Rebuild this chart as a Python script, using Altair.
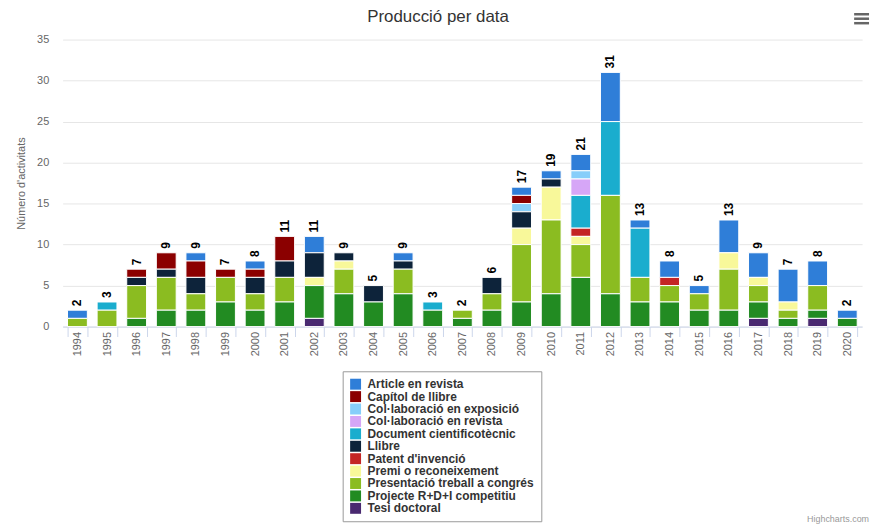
import altair as alt
import pandas as pd

years = [str(y) for y in range(1994, 2021)]

series_names = [
    "Article en revista",
    "Capítol de llibre",
    "Col·laboració en exposició",
    "Col·laboració en revista",
    "Document cientificotècnic",
    "Llibre",
    "Patent d'invenció",
    "Premi o reconeixement",
    "Presentació treball a congrés",
    "Projecte R+D+I competitiu",
    "Tesi doctoral",
]
series_colors = [
    "#2f7ed8", "#8b0000", "#87cefa", "#d6a6f7", "#1aadce", "#0d233a",
    "#c42525", "#f8f89a", "#8bbc21", "#228b22", "#492970",
]

#             94 95 96 97 98 99 00 01 02 03 04 05 06 07 08 09 10 11 12 13 14 15 16 17 18 19 20
article     = [1, 0, 0, 0, 1, 0, 1, 0, 2, 0, 0, 1, 0, 0, 0, 1, 1, 2, 6, 1, 2, 1, 4, 3, 4, 3, 1]
capitol     = [0, 0, 1, 2, 2, 1, 1, 3, 0, 0, 0, 0, 0, 0, 0, 1, 0, 0, 0, 0, 0, 0, 0, 0, 0, 0, 0]
colab_expo  = [0, 0, 0, 0, 0, 0, 0, 0, 0, 0, 0, 0, 0, 0, 0, 1, 0, 1, 0, 0, 0, 0, 0, 0, 0, 0, 0]
colab_rev   = [0, 0, 0, 0, 0, 0, 0, 0, 0, 0, 0, 0, 0, 0, 0, 0, 0, 2, 0, 0, 0, 0, 0, 0, 0, 0, 0]
document    = [0, 1, 0, 0, 0, 0, 0, 0, 0, 0, 0, 0, 1, 0, 0, 0, 0, 4, 9, 6, 0, 0, 0, 0, 0, 0, 0]
llibre      = [0, 0, 1, 1, 2, 0, 2, 2, 3, 1, 2, 1, 0, 0, 2, 2, 1, 0, 0, 0, 0, 0, 0, 0, 0, 0, 0]
patent      = [0, 0, 0, 0, 0, 0, 0, 0, 0, 0, 0, 0, 0, 0, 0, 0, 0, 1, 0, 0, 1, 0, 0, 0, 0, 0, 0]
premi       = [0, 0, 0, 0, 0, 0, 0, 0, 1, 1, 0, 0, 0, 0, 0, 2, 4, 1, 0, 0, 0, 0, 2, 1, 1, 0, 0]
presentacio = [1, 2, 4, 4, 2, 3, 2, 3, 0, 3, 0, 3, 0, 1, 2, 7, 9, 4, 12, 3, 2, 2, 5, 2, 1, 3, 0]
projecte    = [0, 0, 1, 2, 2, 3, 2, 3, 4, 4, 3, 4, 2, 1, 2, 3, 4, 6, 4, 3, 3, 2, 2, 2, 1, 1, 1]
tesi        = [0, 0, 0, 0, 0, 0, 0, 0, 1, 0, 0, 0, 0, 0, 0, 0, 0, 0, 0, 0, 0, 0, 0, 1, 0, 1, 0]

series_values = [article, capitol, colab_expo, colab_rev, document, llibre,
                 patent, premi, presentacio, projecte, tesi]

chart_title = "Producció per data"
credits_text = "Highcharts.com"

rows = []
for k, (name, vals) in enumerate(zip(series_names, series_values)):
    for y, v in zip(years, vals):
        if v > 0:
            rows.append({"any": y, "tipus": name, "n": v, "ordre": k})
df = pd.DataFrame(rows)
one = pd.DataFrame({"k": [0]})

FONT = "Liberation Sans"

x_enc = alt.X(
    "any:N",
    sort=years,
    title=None,
    scale=alt.Scale(paddingInner=0.33, paddingOuter=0.165),
    axis=alt.Axis(
        labelAngle=270,
        labelColor="#666666",
        labelFontSize=11,
        labelFont=FONT,
        labelPadding=-5,
        tickBand="extent",
        tickSize=10,
        tickColor="#ccd6eb",
        domainColor="#ccd6eb",
        grid=False,
    ),
)

base = alt.Chart(df)

bars = base.mark_bar(stroke="white", strokeWidth=1).encode(
    x=x_enc,
    y=alt.Y(
        "n:Q",
        stack="zero",
        scale=alt.Scale(domain=[0, 35], nice=False),
        axis=alt.Axis(
            values=[0, 5, 10, 15, 20, 25, 30, 35],
            domain=False,
            ticks=False,
            grid=True,
            gridColor="#e6e6e6",
            labelColor="#666666",
            labelFontSize=11,
            labelFont=FONT,
            labelPadding=14,
            title="Número d'activitats",
            titleFont=FONT,
            titleFontSize=11,
            titleFontWeight="normal",
            titleColor="#666666",
            titlePadding=10,
        ),
    ),
    color=alt.Color(
        "tipus:N",
        scale=alt.Scale(domain=series_names, range=series_colors),
        legend=alt.Legend(
            title=None,
            orient="none",
            legendX=282,
            legendY=334,
            direction="vertical",
            symbolType="square",
            symbolSize=121,
            symbolStrokeWidth=0,
            symbolOpacity=1,
            labelFont=FONT,
            labelFontSize=12,
            labelFontWeight="bold",
            labelColor="#333333",
            labelOffset=6,
            labelLimit=400,
            rowPadding=0.5,
            padding=7,
            strokeColor="#999999",
            fillColor="white",
        ),
    ),
    order=alt.Order("ordre:Q", sort="descending"),
)

totals = base.transform_aggregate(
    total="sum(n)", groupby=["any"]
).mark_text(
    angle=270, align="left", baseline="middle", dx=4,
    font=FONT, fontSize=12, fontWeight="bold", color="#000000",
).encode(
    x=alt.X("any:N", sort=years),
    y=alt.Y("total:Q"),
    text=alt.Text("total:Q"),
)

title = alt.Chart(one).mark_text(
    align="center", baseline="middle", font=FONT, fontSize=17, color="#333333"
).encode(x=alt.value(378), y=alt.value(-23), text=alt.value(chart_title))

menu = [
    alt.Chart(one).mark_rule(color="#666666", strokeWidth=2.5).encode(
        x=alt.value(797), x2=alt.value(812), y=alt.value(yy)
    )
    for yy in (-25.5, -21, -16.5)
]

credits = alt.Chart(one).mark_text(
    align="right", baseline="middle", font=FONT, fontSize=9, color="#999999"
).encode(x=alt.value(812), y=alt.value(483), text=alt.value(credits_text))

chart = alt.layer(bars, totals, title, *menu, credits).properties(
    width=805,
    height=289,
    autosize=alt.AutoSizeParams(type="none"),
    padding={"left": 55, "top": 30, "right": 12, "bottom": 200},
).configure_view(stroke=None)

chart.save("out.html", embed_options={"renderer": "svg", "actions": False})
